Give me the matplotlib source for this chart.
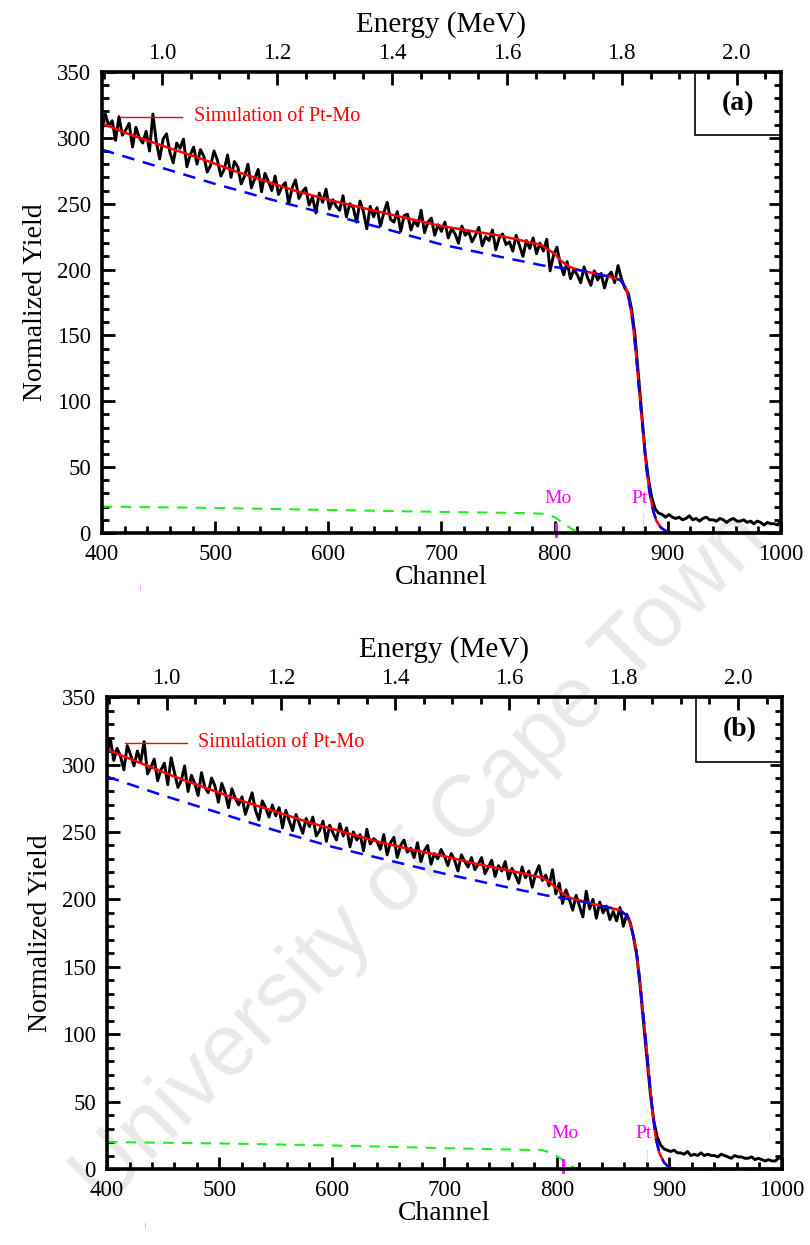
import numpy as np
import matplotlib.pyplot as plt
from matplotlib.ticker import MultipleLocator

plt.rcParams['font.family'] = ['Liberation Serif', 'DejaVu Serif']

# ---- dane ----
kanaly = np.arange(400, 1001, 3)

pomiar_a = [
    305, 318, 309, 313, 298, 316, 302, 306, 311, 293,
    308, 300, 296, 305, 290, 318, 297, 284, 299, 303,
    289, 281, 296, 292, 299, 278, 287, 293, 280, 291,
    286, 274, 279, 290, 283, 271, 276, 287, 270, 282,
    278, 265, 271, 280, 262, 269, 276, 259, 273, 267,
    260, 271, 257, 263, 266, 250, 262, 268, 254, 259,
    262, 249, 255, 243, 258, 251, 261, 246, 253, 248,
    245, 256, 240, 250, 247, 236, 252, 244, 231, 248,
    240, 247, 233, 243, 251, 238, 236, 244, 229, 241,
    242, 230, 237, 233, 245, 228, 236, 239, 226, 234,
    229, 236, 224, 231, 227, 220, 233, 226, 229, 221,
    226, 232, 218, 225, 222, 230, 215, 224, 227, 219,
    221, 214, 226, 218, 210, 222, 216, 224, 212, 220,
    214, 223, 199, 211, 217, 204, 196, 206, 193, 200,
    196, 190, 202, 194, 188, 199, 192, 197, 186, 195,
    198, 190, 203, 193, 186, 182, 170, 150, 120, 90,
    60, 40, 26, 18, 15, 14, 12, 14, 12, 11,
    12, 10, 11, 13, 10, 11, 9, 11, 12, 10,
    10, 9, 11, 10, 8, 10, 11, 9, 9, 10,
    8, 9, 7, 9, 8, 6, 8, 7, 7, 6,
    10]

pomiar_b = [
    308, 319, 303, 312, 306, 296, 314, 307, 299, 310,
    302, 317, 293, 298, 304, 288, 296, 301, 285, 305,
    294, 283, 288, 299, 280, 292, 286, 277, 294, 283,
    279, 290, 284, 272, 286, 279, 268, 282, 275, 270,
    276, 263, 271, 279, 266, 259, 273, 268, 261, 270,
    262, 268, 253, 266, 258, 251, 263, 256, 249, 260,
    254, 261, 247, 251, 258, 243, 255, 249, 244, 256,
    247, 253, 239, 250, 244, 248, 236, 252, 241, 245,
    243, 237, 248, 233, 242, 246, 231, 240, 244, 235,
    238, 231, 242, 228, 236, 240, 226, 234, 230, 237,
    232, 225, 234, 229, 221, 233, 228, 224, 231, 222,
    226, 231, 219, 224, 229, 217, 225, 221, 228, 215,
    223, 218, 212, 224, 216, 221, 209, 219, 225, 214,
    218, 210, 222, 204, 212, 197, 207, 200, 192, 203,
    195, 187, 206, 193, 200, 186, 198, 190, 195, 185,
    191, 184, 194, 180, 189, 183, 172, 158, 135, 108,
    82, 56, 36, 24, 18, 15, 14, 13, 14, 12,
    12, 11, 13, 10, 11, 10, 12, 10, 11, 10,
    10, 9, 11, 10, 9, 8, 10, 9, 9, 8,
    8, 9, 7, 8, 7, 6, 7, 6, 6, 8,
    9]

# symulacja Pt-Mo (czerwona)
sym_a_x = [400, 420, 450, 488, 520, 570, 600, 659, 700, 750, 787, 793, 800, 805, 813, 822,
           849, 858, 863, 866, 869, 872, 875, 878, 881, 884, 887, 890, 894, 899, 905, 1000]
sym_a_y = [311, 304, 295, 284, 274, 260, 253, 241, 233, 226, 219, 216, 212, 207, 202, 199.5,
           194.5, 192, 186, 176, 160, 135, 105, 78, 50, 30, 17, 9, 4, 1, 0, 0]
sym_b_x = [400, 430, 460, 490, 520, 550, 580, 610, 640, 670, 700, 730, 760, 787, 793, 800, 806,
           812, 830, 856, 862, 866, 870, 873, 876, 879, 882, 885, 888, 891, 895, 900, 906, 1000]
sym_b_y = [311, 301, 291, 282, 273, 265, 257, 250, 243, 237, 232, 226, 221, 216, 213, 208, 204,
           201, 197, 192, 188, 180, 165, 145, 120, 95, 68, 42, 22, 12, 5, 1, 0, 0]

# Pt (niebieska)
pt_a_x = [400, 450, 500, 550, 600, 650, 700, 750, 790, 822, 849, 858, 863, 866, 869, 872,
          875, 878, 881, 884, 887, 890, 894, 899, 905, 1000]
pt_a_y = [291, 278, 265, 253, 242, 231, 219, 210, 203, 199.5, 194.5, 192, 186, 176, 160, 135,
          105, 78, 50, 30, 17, 9, 4, 1, 0, 0]
pt_b_x = [400, 450, 500, 550, 600, 650, 700, 750, 790, 812, 830, 856, 862, 866, 870, 873,
          876, 879, 882, 885, 888, 891, 895, 900, 906, 1000]
pt_b_y = [291, 277, 264, 251, 239, 229, 219, 210, 203, 200, 197, 192, 188, 180, 165, 145,
          120, 95, 68, 42, 22, 12, 5, 1, 0, 0]

# Mo (zielona)
mo_a_x = [400, 500, 600, 700, 780, 790, 800, 805, 810, 815, 820, 825, 1000]
mo_a_y = [20, 19, 17.5, 16, 15, 14.5, 12, 9, 6, 3, 1, 0, 0]
mo_b_x = [400, 500, 600, 700, 787, 795, 803, 809, 815, 822, 1000]
mo_b_y = [20, 19, 17.5, 15.5, 14, 12, 8, 4.5, 1, 0, 0]

energia_lim = (0.8957, 2.077)


def panel(ax, pomiar, sx, sy, px, py, mx, my, litera, mo_ch, pt_ch):
    ax.set_facecolor('none')
    ax.plot(kanaly, pomiar, color='black', lw=2.1, zorder=2)
    ax.plot(sx, sy, color='red', lw=1.8, zorder=3, clip_on=False)
    ax.plot(px, py, color='blue', lw=1.8, ls=(0, (5, 3.5)), zorder=4, clip_on=False)
    ax.plot(mx, my, color='#22ee22', lw=1.5, ls=(0, (5, 4)), zorder=5, clip_on=False)
    ax.set_xlim(400, 1000)
    ax.set_ylim(0, 350)

    # legenda
    ax.plot([416, 471], [316, 316], color='red', lw=1)
    ax.text(481, 316, 'Simulation of Pt-Mo', color='red', fontsize=14.5, va='center')

    # znaczniki Mo / Pt
    ax.text(mo_ch + 2, 26, 'Mo', color='magenta', fontsize=14, ha='center', va='center')
    ax.text(pt_ch - 3, 26, 'Pt', color='magenta', fontsize=14, ha='center', va='center')
    ax.plot([mo_ch, mo_ch], [-2, 7], color='magenta', lw=2, clip_on=False, zorder=6)
    ax.plot([pt_ch, pt_ch], [0, 15], color='magenta', lw=0.8, ls=':', alpha=0.5)
    ax.text(434, -42, '|', color='magenta', fontsize=5, ha='center', va='center', clip_on=False)

    # ramka z litera
    ax.text(0.937, 0.931, litera, transform=ax.transAxes, fontsize=20, fontweight='bold',
            ha='center', va='center',
            bbox=dict(boxstyle='square,pad=0', fc='white', ec='none'))
    ax.add_patch(plt.Rectangle((0.873, 0.863), 0.127, 0.137, transform=ax.transAxes,
                               fill=False, ec='black', lw=1.2, zorder=7))

    ax.xaxis.set_major_locator(MultipleLocator(100))
    ax.xaxis.set_minor_locator(MultipleLocator(20))
    ax.yaxis.set_major_locator(MultipleLocator(50))
    ax.yaxis.set_minor_locator(MultipleLocator(10))
    ax.tick_params(which='both', direction='in', right=True, top=False, width=2,
                   labelsize=16.5, pad=8)
    ax.tick_params(which='major', length=9)
    ax.tick_params(which='minor', length=5)
    for s in ax.spines.values():
        s.set_linewidth(2.6)
        s.set_zorder(8)
    ax.set_xlabel('Channel', fontsize=20, labelpad=0)
    ax.set_ylabel('Normalized Yield', fontsize=20, labelpad=6)

    top = ax.twiny()
    top.set_xlim(*energia_lim)
    top.xaxis.set_major_locator(MultipleLocator(0.2))
    top.xaxis.set_minor_locator(MultipleLocator(0.05))
    top.xaxis.set_major_formatter(plt.FormatStrFormatter('%.1f'))
    top.tick_params(which='both', direction='in', width=2, labelsize=16.5, pad=6)
    top.tick_params(which='major', length=9)
    top.tick_params(which='minor', length=5)
    for s in top.spines.values():
        s.set_visible(False)
    top.set_xlabel('Energy (MeV)', fontsize=21, labelpad=8)


fig = plt.figure(figsize=(8.1, 12.45), dpi=100)
ax1 = fig.add_axes([0.1259, 0.5719, 0.8383, 0.3703])
ax2 = fig.add_axes([0.1321, 0.0610, 0.8333, 0.3791])

panel(ax1, pomiar_a, sym_a_x, sym_a_y, pt_a_x, pt_a_y, mo_a_x, mo_a_y, '(a)', 801, 878)
panel(ax2, pomiar_b, sym_b_x, sym_b_y, pt_b_x, pt_b_y, mo_b_x, mo_b_y, '(b)', 805, 880)

# znak wodny
fig.text(0.52, 0.31, 'University of Cape Town', fontsize=63, color='#e9e9e9',
         family=['Liberation Sans', 'DejaVu Sans'], rotation=45, ha='center', va='center',
         zorder=-1)

fig.savefig('out.png', dpi=100)
